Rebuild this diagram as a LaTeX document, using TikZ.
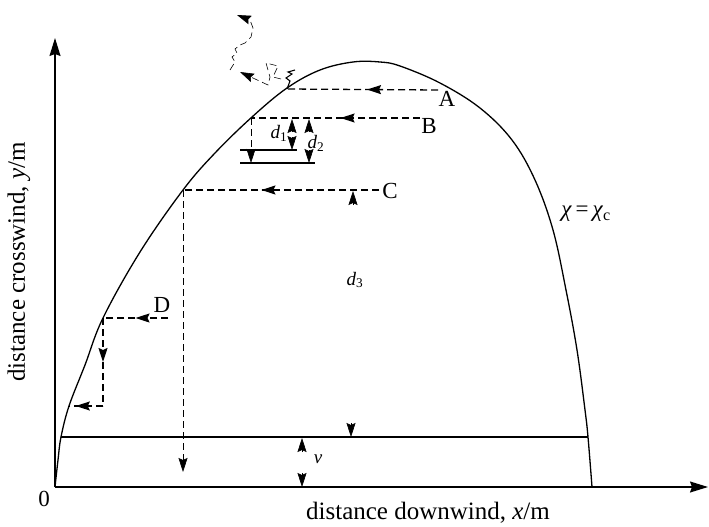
\documentclass[tikz,border=0pt]{standalone}
\usepackage{fontspec}
\setmainfont{Liberation Serif}
\usetikzlibrary{
    arrows.meta,
    positioning,
    decorations.markings
}
\tikzset{
  axis/.style   = {-{Stealth[length=18pt,width=11pt,inset=2pt]}, line width=1.3pt},
  bound/.style  = {line width=1.3pt},
  track/.style  = {dash pattern=on 7pt off 4pt, line width=1.3pt},
  midarr/.style = {postaction={decorate}, decoration={markings,
                   mark=at position #1 with {\arrow{Stealth[length=14pt,width=9pt,inset=2pt]}}}},
  tip/.style    = {-{Stealth[length=14pt,width=9pt,inset=2pt]}, line width=0.6pt},
  lab/.style    = {font=\fontsize{23}{27}\selectfont, inner sep=0pt},
  axlab/.style  = {font=\fontsize{25}{30}\selectfont, inner sep=0pt},
  dlab/.style   = {font=\fontsize{19}{23}\selectfont, inner sep=0pt}
}

\begin{document}
\begin{tikzpicture}[x=1pt, y=-1pt]
    \useasboundingbox (0,0) rectangle (709,527);

    % axes
    \coordinate (O) at (55,487);
    \coordinate (yend) at (55,38);
    \coordinate (xend) at (708,487);
    \draw[axis] (O) -- (yend);
    \draw[axis] (O) -- (xend);
    \node[lab] (zero) at (44,499) {0};
    \node[axlab] (xlab) at (428,513) {distance downwind, \textit{x}/m};
    \node[axlab, rotate=90] (ylab) at (19,262) {distance crosswind, \textit{y}/m};

    % boundary chi = chi_c
    \draw[bound] plot[smooth, tension=0.6] coordinates {
        (55,487) (58,460) (61,437) (69,406) (85,365) (103,318) (140,252)
        (183,190) (215,153) (252,117) (287,88) (320,70) (353,62) (380,62)
        (400,66) (440,83) (480,108) (512,140) (535,180) (553,230) (566,290)
        (577,350) (585,410) (588,437) (592,487)};
    \node[lab] (chi) at (586,214) {\textit{χ}\,=\,\textit{χ}\textsubscript{c}};

    \coordinate (bl) at (61,437);
    \coordinate (br) at (588,437);
    \draw[bound] (bl) -- (br);

    % particle A
    \node[lab] (A) at (447,99) {A};
    \coordinate (a0) at (438,90);
    \coordinate (pA) at (287,89);
    \draw[track, midarr=0.47] (a0) -- (pA);
    \draw[line width=1.1pt] (pA) -- (290,81) -- (286,78) -- (292,74) -- (288,72) -- (295,70);
    \coordinate (g1) at (240,72);
    \coordinate (g2) at (237,15);
    \draw[track, tip] (281,79) -- (273,77) -- (278,66) -- (266,63) -- (270,77) -- (268,85) -- (g1);
    \draw[track, tip] (230,70) -- (235,62) -- (232,57) -- (237,53) -- (235,49) -- (240,45)
        -- (245,43) -- (251,37) -- (253,28) -- (250,20) -- (g2);

    % particle B
    \node[lab] (B) at (429,126) {B};
    \coordinate (b0) at (420,118);
    \coordinate (pB) at (251,118);
    \coordinate (bE) at (251,163);
    \draw[track, midarr=0.47] (b0) -- (pB);
    \draw[track, tip] (pB) -- (bE);
    \draw[line width=1.1pt] (240,150) -- (297,150);
    \draw[line width=1.1pt] (240,163) -- (315,163);
    \draw[tip] (292,132) -- (292,119);
    \draw[tip] (292,137) -- (292,150);
    \draw[tip] (309,132) -- (309,119);
    \draw[tip] (309,150) -- (309,163);
    \node[dlab] (d1) at (279,133) {\textit{d}\textsubscript{1}};
    \node[dlab] (d2) at (316,143) {\textit{d}\textsubscript{2}};

    % particle C
    \node[lab] (C) at (390,191) {C};
    \coordinate (c0) at (379,190);
    \coordinate (pC) at (183,190);
    \coordinate (cE) at (183,472);
    \draw[track, midarr=0.6] (c0) -- (pC);
    \draw[track, tip] (pC) -- (cE);
    \draw[tip] (353,205) -- (353,191);
    \draw[tip] (351,423) -- (351,437);
    \node[dlab] (d3) at (355,280) {\textit{d}\textsubscript{3}};

    % particle D
    \node[lab] (D) at (162,305) {D};
    \coordinate (d0) at (168,318);
    \coordinate (pD) at (103,318);
    \coordinate (dM) at (103,406);
    \coordinate (pD2) at (69,406);
    \draw[track, midarr=0.5] (d0) -- (pD);
    \draw[track, midarr=0.5] (pD) -- (dM);
    \draw[track, midarr=0.8] (dM) -- (pD2);

    % deposition height nu
    \draw[tip] (302,452) -- (302,438);
    \draw[tip] (302,473) -- (302,487);
    \node[dlab] (nu) at (318,459) {\textit{ν}};
\end{tikzpicture}
\end{document}
